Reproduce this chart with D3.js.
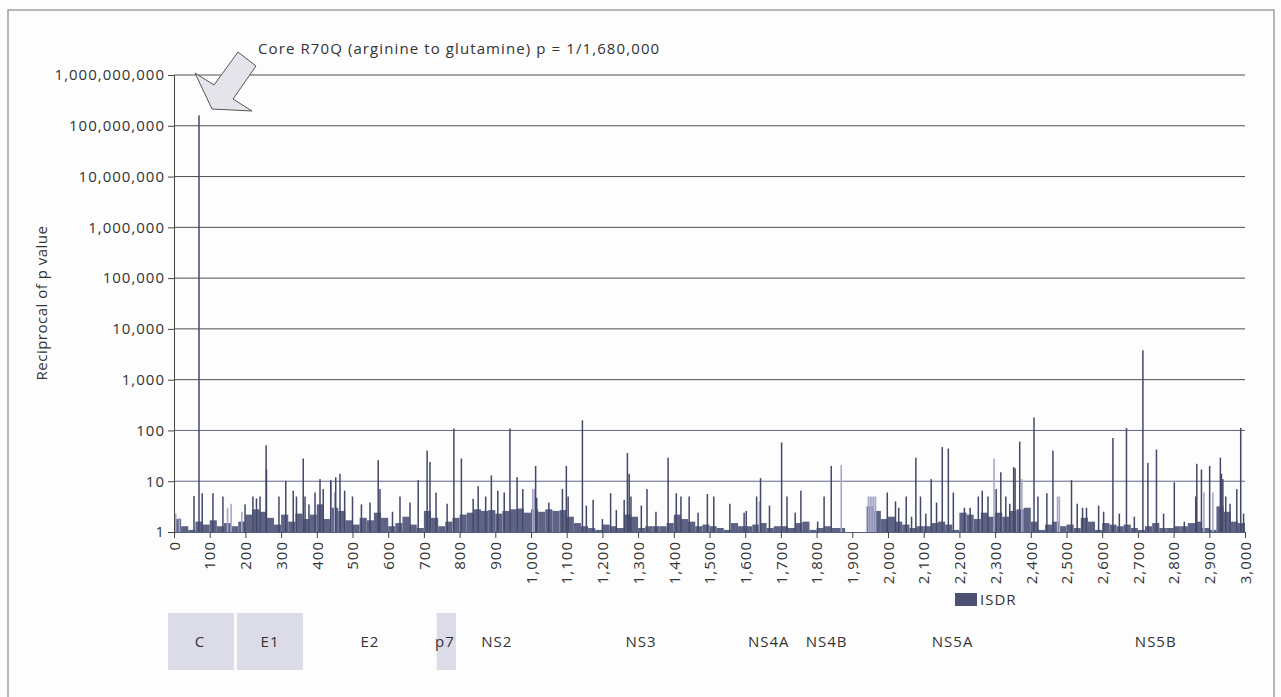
<!DOCTYPE html>
<html>
<head>
<meta charset="utf-8">
<script src="https://cdn.jsdelivr.net/npm/d3@7"></script>
<style>
  body { margin: 0; background: #fdfdfd; }
  text { font-family: "Open Sans", "Liberation Sans", sans-serif; fill: #333; letter-spacing: 1px; }
</style>
</head>
<body>
<div id="chart"></div>
<script>
// background level per 20-residue bin (0..2999)
var bgLevel = [
  1.8, 1.3, 1.1, 1.6, 1.4, 1.7, 1.3, 1.5, 1.3, 1.6,
  2.2, 2.8, 2.5, 1.9, 1.4, 2.2, 1.6, 2.3, 1.8, 2.2,
  3.5, 1.8, 3.0, 2.6, 1.7, 1.4, 1.9, 1.7, 2.4, 1.9,
  1.3, 1.5, 2.0, 1.4, 1.2, 2.6, 1.9, 1.3, 1.6, 1.9,
  2.2, 2.4, 2.8, 2.6, 2.7, 2.3, 2.6, 2.8, 2.9, 2.4,
  2.8, 2.5, 2.8, 2.6, 2.7, 2.0, 1.5, 1.3, 1.2, 1.1,
  1.4, 1.3, 1.2, 2.2, 2.0, 1.2, 1.3, 1.3, 1.3, 1.5,
  2.2, 1.8, 1.6, 1.3, 1.4, 1.3, 1.2, 1.1, 1.5, 1.3,
  1.3, 1.4, 1.5, 1.2, 1.3, 1.3, 1.2, 1.5, 1.6, 1.1,
  1.2, 1.3, 1.2, 1.2, 1.0, 1.0, 1.0, 3.2, 2.6, 1.8,
  2.0, 1.6, 1.4, 1.2, 1.3, 1.3, 1.5, 1.6, 1.4, 1.1,
  2.4, 2.2, 1.8, 2.4, 2.0, 2.4, 2.0, 2.6, 2.8, 3.0,
  1.6, 1.1, 1.4, 1.6, 1.3, 1.4, 1.2, 1.9, 1.6, 1.1,
  1.5, 1.4, 1.3, 1.4, 1.2, 1.1, 1.3, 1.5, 1.2, 1.2,
  1.3, 1.3, 1.5, 1.6, 1.2, 1.1, 3.2, 2.5, 1.6, 1.5
];

// dark spikes: residue position and reciprocal p value
var spikePos = [
  56, 70, 79, 109, 137, 199, 221, 231, 241, 258, 259, 294, 313, 334, 343, 362, 367, 378,
  395, 409, 418, 439, 453, 465, 478, 500, 525, 549, 572, 577, 612, 633, 661, 684, 709, 717,
  734, 765, 784, 805, 838, 852, 873, 889, 907, 925, 941, 961, 977, 1013, 1016, 1050,
  1088, 1099, 1104, 1144, 1155, 1174, 1200, 1223, 1239, 1261, 1270, 1275, 1280, 1309, 1325,
  1350, 1384, 1407, 1420, 1443, 1468, 1494, 1512, 1557, 1597, 1603, 1632, 1643, 1668, 1702,
  1717, 1740, 1756, 1803, 1821, 1841, 1998, 2021, 2030, 2051, 2066, 2078, 2091, 2106, 2121,
  2136, 2152, 2169, 2183, 2214, 2230, 2253, 2264, 2280, 2303, 2316, 2330, 2341, 2352, 2356,
  2369, 2409, 2420, 2445, 2462, 2514, 2530, 2545, 2556, 2590, 2604, 2630, 2648, 2668, 2690,
  2714, 2728, 2752, 2772, 2802, 2830, 2862, 2865, 2878, 2901, 2931, 2934, 2938, 2946, 2958,
  2977, 2988, 2996
];
var spikeVal = [
  5.1, 160000000, 5.8, 5.8, 5, 3.5, 5, 4.6, 5, 51, 17, 5, 10.2, 6.5, 5, 28, 5, 3.5,
  6, 11, 7, 10.5, 12, 14, 6.5, 5, 3.5, 3.8, 26, 7, 2.5, 5, 3.8, 10.5, 40, 24,
  6, 3.6, 109, 28, 4.5, 8, 5, 13, 6.5, 6, 109, 12, 7, 20, 4.7, 3.8,
  7, 20, 5, 158, 3.3, 4.3, 1.8, 5.8, 2.7, 4.3, 36, 14, 5, 3.3, 7,
  2.5, 29, 5.8, 5, 5, 2.4, 5.6, 5, 3.6, 2.4, 2.6, 5, 11.5, 3.3, 58,
  5, 2.4, 6.5, 1.6, 5, 20, 6, 4, 3, 5, 2, 29, 5, 2.3, 11,
  3.8, 47, 44, 6, 3, 3, 5, 6.5, 5, 7, 15, 5, 3.6, 19, 18,
  60, 180, 5, 5.8, 40, 10.5, 3.6, 3, 3, 3.3, 2.5, 71, 2.3, 112, 2,
  3800, 23, 42, 2.3, 9.5, 1.6, 5, 22, 17, 20, 29, 14, 11, 5, 3.6,
  7, 112, 2.3
];

// light (lavender) bars
var lightPos = [5, 15, 150, 160, 190, 440, 450, 1005, 1010, 1640, 1869, 1945, 1950, 1955, 1960, 1965, 2297, 2375, 2475, 2480, 2885, 2910];
var lightVal = [2.3, 1.9, 3, 3.6, 2.5, 10, 6, 7, 7, 4, 21, 5, 5, 5, 5, 5, 28, 11, 5, 5, 6, 6];

var yTicks = [1, 10, 100, 1000, 10000, 100000, 1000000, 10000000, 100000000, 1000000000];
var xTicks = d3.range(0, 3001, 100);

// gene regions (residue units)
var geneNames = ["C", "E1", "E2", "p7", "NS2", "NS3", "NS4A", "NS4B", "NS5A", "NS5B"];
var geneLabelPos = [73, 269, 549, 759, 904, 1308, 1666, 1828, 2181, 2750];
var geneBoxStart = [-17, 176, null, 736, null, null, null, null, null, null];
var geneBoxEnd = [168, 361, null, 790, null, null, null, null, null, null];

var W = 1281, H = 697;
var svg = d3.select("#chart").append("svg")
  .attr("width", W)
  .attr("height", H);

// outer frame
svg.append("rect")
  .attr("x", 8).attr("y", 10)
  .attr("width", 1266).attr("height", 700)
  .attr("fill", "none")
  .attr("stroke", "#8a8a8a")
  .attr("stroke-width", 1.2);

var x = d3.scaleLinear().domain([0, 3000]).range([174, 1245]);
var y = d3.scaleLog().domain([1, 1e9]).range([532, 75]);

// grid lines
svg.append("g").selectAll("line")
  .data(yTicks.slice(1))
  .enter().append("line")
  .attr("x1", 174).attr("x2", 1245)
  .attr("y1", function(d) { return y(d); })
  .attr("y2", function(d) { return y(d); })
  .attr("stroke", function(d) { return d <= 100 ? "#5f6488" : "#4e4e46"; })
  .attr("stroke-width", 1);

var plot = svg.append("g");

// background mass
plot.selectAll(".bg")
  .data(bgLevel)
  .enter().append("rect")
  .attr("class", "bg")
  .attr("x", function(d, i) { return x(i * 20); })
  .attr("width", x(20) - x(0))
  .attr("y", function(d) { return y(d); })
  .attr("height", function(d) { return y(1) - y(d); })
  .attr("fill", "#5e6386");

plot.selectAll(".light")
  .data(lightPos)
  .enter().append("rect")
  .attr("class", "light")
  .attr("x", function(d) { return x(d) - 0.8; })
  .attr("width", 1.6)
  .attr("y", function(d, i) { return y(lightVal[i]); })
  .attr("height", function(d, i) { return y(1) - y(lightVal[i]); })
  .attr("fill", "#a8a8c8");

plot.selectAll(".spike")
  .data(spikePos)
  .enter().append("rect")
  .attr("class", "spike")
  .attr("x", function(d) { return x(d) - 0.75; })
  .attr("width", 1.5)
  .attr("y", function(d, i) { return y(spikeVal[i]); })
  .attr("height", function(d, i) { return y(1) - y(spikeVal[i]); })
  .attr("fill", "#434868");

// y axis
var yAxis = d3.axisLeft(y)
  .tickValues(yTicks)
  .tickFormat(d3.format(","))
  .tickSize(6)
  .tickPadding(3);
var gy = svg.append("g")
  .attr("transform", "translate(174,0)")
  .call(yAxis);
gy.select(".domain").attr("stroke", "#444");
gy.selectAll(".tick line").attr("stroke", "#444");
gy.selectAll("text")
  .style("font-size", "15px")
  .style("font-family", "'Open Sans', sans-serif")
  .attr("fill", "#333");

// x axis
var xAxis = d3.axisBottom(x)
  .tickValues(xTicks)
  .tickFormat(d3.format(","))
  .tickSize(6)
  .tickPadding(4);
var gx = svg.append("g")
  .attr("transform", "translate(0,532)")
  .call(xAxis);
gx.select(".domain").attr("stroke", "#555f80");
gx.selectAll(".tick line").attr("stroke", "#444");
gx.selectAll("text")
  .style("font-size", "15px")
  .style("font-family", "'Open Sans', sans-serif")
  .attr("fill", "#333")
  .attr("text-anchor", "end")
  .attr("dy", "0.35em")
  .attr("transform", "rotate(-90)")
  .attr("x", -9)
  .attr("y", 0);

// axis title
svg.append("text")
  .attr("transform", "translate(47,303) rotate(-90)")
  .attr("text-anchor", "middle")
  .style("font-size", "15px")
  .style("letter-spacing", "0.5px")
  .text("Reciprocal of p value");

// annotation arrow
svg.append("path")
  .attr("d", "M212,109 L195,73 L214,85 L238,52 L256,66 L233,99 L252,111 Z")
  .attr("fill", "#e4e4ea")
  .attr("stroke", "#555")
  .attr("stroke-width", 1);

svg.append("text")
  .attr("x", 258).attr("y", 54)
  .style("font-size", "15px")
  .style("letter-spacing", "1.1px")
  .text("Core R70Q (arginine to glutamine) p = 1/1,680,000");

// legend
svg.append("rect")
  .attr("x", 955).attr("y", 593)
  .attr("width", 22).attr("height", 13)
  .attr("fill", "#4c5173");
svg.append("text")
  .attr("x", 980).attr("y", 605)
  .style("font-size", "15px")
  .text("ISDR");

// gene boxes and labels
geneNames.forEach(function(name, i) {
  if (geneBoxStart[i] !== null) {
    svg.append("rect")
      .attr("x", x(geneBoxStart[i]))
      .attr("width", x(geneBoxEnd[i]) - x(geneBoxStart[i]))
      .attr("y", 613).attr("height", 57)
      .attr("fill", "#dcdce8");
  }
  svg.append("text")
    .attr("x", x(geneLabelPos[i]))
    .attr("y", 647)
    .attr("text-anchor", "middle")
    .style("font-size", "15px")
    .text(name);
});
</script>
</body>
</html>
